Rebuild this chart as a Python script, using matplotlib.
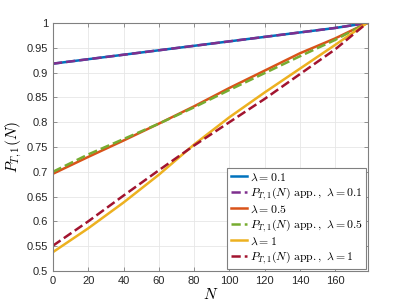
import matplotlib
matplotlib.use("Agg")
import matplotlib.pyplot as plt
import numpy as np

plt.rcParams['font.family'] = ['Liberation Sans', 'DejaVu Sans']
plt.rcParams['mathtext.fontset'] = 'cm'

# values
N = [0, 20, 40, 60, 80, 100, 120, 140, 160, 178]
lam01_exact = [0.918, 0.927, 0.936, 0.945, 0.954, 0.963, 0.972, 0.981, 0.990, 1.000]
lam01_app = [0.918, 0.927, 0.936, 0.945, 0.954, 0.963, 0.972, 0.981, 0.990, 1.000]
lam05_exact = [0.696, 0.730, 0.763, 0.797, 0.832, 0.869, 0.904, 0.939, 0.969, 1.000]
lam05_app = [0.700, 0.735, 0.766, 0.797, 0.830, 0.865, 0.899, 0.933, 0.966, 1.000]
lam1_exact = [0.538, 0.586, 0.638, 0.694, 0.755, 0.810, 0.860, 0.908, 0.956, 1.000]
lam1_app = [0.551, 0.600, 0.652, 0.703, 0.753, 0.800, 0.847, 0.897, 0.947, 1.000]

series = [
    (lam01_exact, '-', '#0072BD', r'$\lambda = 0.1$'),
    (lam01_app, '--', '#7E2F8E', r'$P_{T,1}(N)\ \mathrm{app.},\ \lambda = 0.1$'),
    (lam05_exact, '-', '#D95319', r'$\lambda = 0.5$'),
    (lam05_app, '--', '#77AC30', r'$P_{T,1}(N)\ \mathrm{app.},\ \lambda = 0.5$'),
    (lam1_exact, '-', '#EDB120', r'$\lambda = 1$'),
    (lam1_app, '--', '#A2142F', r'$P_{T,1}(N)\ \mathrm{app.},\ \lambda = 1$'),
]

fig = plt.figure(figsize=(4.07, 3.05), dpi=100)
ax = fig.add_axes([0.130, 0.1115, 0.774, 0.8131])

for y, ls, c, lab in series:
    ax.plot(N, y, ls, color=c, lw=1.8, label=lab)

ax.set_xlim(0, 178.5)
ax.set_ylim(0.5, 1)
ax.set_xticks(np.arange(0, 161, 20))
ax.set_yticks(np.arange(0.5, 1.001, 0.05))
ax.set_yticklabels(['0.5', '0.55', '0.6', '0.65', '0.7', '0.75', '0.8', '0.85', '0.9', '0.95', '1'])
ax.grid(True, color='#e6e6e6', lw=0.6)
ax.set_axisbelow(True)
for s in ax.spines.values():
    s.set_color('#808080')
    s.set_linewidth(0.8)
ax.tick_params(direction='in', top=True, right=True, labelsize=8, colors='#262626',
               length=3, width=0.6)
for t in ('x', 'y'):
    ax.tick_params(axis=t, color='#808080')

ax.set_xlabel(r'$N$', fontsize=11, labelpad=1)
ax.set_ylabel(r'$P_{T,1}(N)$', fontsize=11, labelpad=2)

leg = ax.legend(loc='lower right', fontsize=8.5, handlelength=1.4, handletextpad=0.2,
                labelspacing=0.15, borderaxespad=0.15, borderpad=0.3, fancybox=False,
                framealpha=1, edgecolor='#808080')
leg.get_frame().set_linewidth(0.8)

fig.savefig('out.png', dpi=100)
